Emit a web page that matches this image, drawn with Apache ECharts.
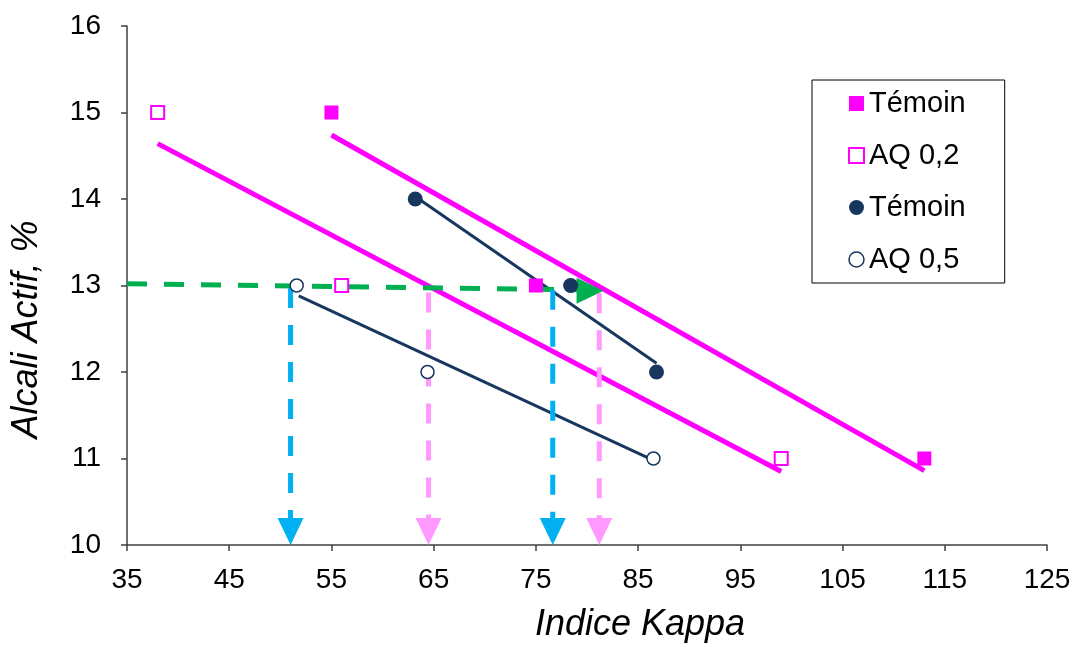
<!DOCTYPE html>
<html>
<head>
<meta charset="utf-8">
<script src="https://cdn.jsdelivr.net/npm/echarts@6/dist/echarts.min.js"></script>
<style>
html,body{margin:0;padding:0;background:#fff;}
#chart{width:1074px;height:651px;}
</style>
</head>
<body>
<div id="chart"></div>
<script>
// ---- data ----
const temoinSquares = [[55,15],[75,13],[113,11]];
const aq02 = [[38,15],[56,13],[99,11]];
const temoinCircles = [[63.2,14],[78.4,13],[86.8,12]];
const aq05 = [[51.6,13],[64.4,12],[86.5,11]];

const trendTemoinSquares = [[55,14.74],[113,10.86]];
const trendAq02 = [[38,14.64],[99,10.85]];
const trendTemoinCircles = [[63.3,14.02],[86.8,12.1]];
const trendAq05 = [[51.8,12.88],[86.3,10.99]];

const greenGuide = [[35,13.02],[79.6,12.95]];
const greenHead = [[80.3,12.94]];
const blueGuides = [[[51,12.97],[51,10.3]], [[76.65,12.95],[76.65,10.3]]];
const blueHeads = [[51,10.155],[76.65,10.155]];
const pinkGuides = [[[64.5,12.92],[64.5,10.3]], [[81.2,12.91],[81.2,10.3]]];
const pinkHeads = [[64.5,10.155],[81.2,10.155]];

const legendNames = ['Témoin', 'AQ 0,2', 'Témoin', 'AQ 0,5'];
const seriesKeys = ['s1','s2','s3','s4'];

const MAG = '#FF00FF', NAVY = '#17375E', GREEN = '#00B050', BLUE = '#00B0F0', PINK = '#FF99FF';
const FONT = 'Liberation Sans, Arial, sans-serif';

const dashLine = (data, color) => ({
  type: 'line', data: data, symbol: 'none', silent: true, z: 3,
  lineStyle: {color: color, width: 5, type: [20, 17], opacity: 1}
});
const heads = (data, color, rot) => ({
  type: 'scatter', data: data, symbol: 'triangle', symbolSize: [26, 27], symbolRotate: rot,
  itemStyle: {color: color, opacity: 1}, silent: true, z: 4
});

const series = [
  {type:'line', data: trendTemoinSquares, symbol:'none', lineStyle:{color:MAG, width:5}, z:2},
  {type:'line', data: trendAq02, symbol:'none', lineStyle:{color:MAG, width:5}, z:2},
  {type:'line', data: trendTemoinCircles, symbol:'none', lineStyle:{color:NAVY, width:3}, z:2},
  {type:'line', data: trendAq05, symbol:'none', lineStyle:{color:NAVY, width:3}, z:2},
  dashLine(greenGuide, GREEN),
  heads(greenHead, GREEN, -90),
  dashLine(blueGuides[0], BLUE), dashLine(blueGuides[1], BLUE),
  heads(blueHeads, BLUE, 180),
  dashLine(pinkGuides[0], PINK), dashLine(pinkGuides[1], PINK),
  heads(pinkHeads, PINK, 180),
  {name:'s1', type:'scatter', data: temoinSquares, symbol:'rect', symbolSize:14,
   itemStyle:{color:MAG, opacity:1}, z:5},
  {name:'s2', type:'scatter', data: aq02, symbol:'rect', symbolSize:13,
   itemStyle:{color:'#fff', borderColor:MAG, borderWidth:2, opacity:1}, z:5},
  {name:'s3', type:'scatter', data: temoinCircles, symbol:'circle', symbolSize:15,
   itemStyle:{color:NAVY, opacity:1}, z:5},
  {name:'s4', type:'scatter', data: aq05, symbol:'circle', symbolSize:13,
   itemStyle:{color:'#fff', borderColor:NAVY, borderWidth:1.5, opacity:1}, z:5}
];

const chart = echarts.init(document.getElementById('chart'));
chart.setOption({
  animation: false,
  backgroundColor: '#fff',
  textStyle: {fontFamily: FONT},
  grid: {left: 127, right: 27, top: 26, bottom: 106},
  legend: {
    orient: 'vertical', left: 812, top: 80,
    padding: [9, 39, 9, 36],
    borderColor: '#000', borderWidth: 1,
    itemGap: 23, itemWidth: 15, itemHeight: 15,
    selectedMode: false,
    formatter: n => legendNames[seriesKeys.indexOf(n)],
    textStyle: {fontSize: 29, color: '#000', fontFamily: FONT, lineHeight: 29},
    data: [
      {name:'s1', icon:'rect', itemStyle:{color:MAG}},
      {name:'s2', icon:'rect', itemStyle:{color:'#fff', borderColor:MAG, borderWidth:2}},
      {name:'s3', icon:'circle', itemStyle:{color:NAVY}},
      {name:'s4', icon:'circle', itemStyle:{color:'#fff', borderColor:NAVY, borderWidth:1.5}}
    ]
  },
  xAxis: {
    type: 'value', min: 35, max: 125, interval: 10,
    name: 'Indice Kappa', nameLocation: 'middle', nameGap: 62,
    nameTextStyle: {fontSize: 36, fontStyle: 'italic', color: '#000', fontFamily: FONT, padding: [0,0,0,106]},
    axisLine: {show: true, onZero: false, lineStyle: {color: '#404040', width: 1.5}},
    axisTick: {show: true, inside: false, length: 6, lineStyle: {color: '#404040', width: 1.5}},
    axisLabel: {fontSize: 28, color: '#000', margin: 21, fontFamily: FONT},
    splitLine: {show: false}
  },
  yAxis: {
    type: 'value', min: 10, max: 16, interval: 1,
    name: 'Alcali Actif, %', nameLocation: 'middle', nameGap: 82, nameRotate: 90,
    nameTextStyle: {fontSize: 36, fontStyle: 'italic', color: '#000', fontFamily: FONT, padding: [0,88,0,0]},
    axisLine: {show: true, onZero: false, lineStyle: {color: '#404040', width: 1.5}},
    axisTick: {show: true, inside: false, length: 6, lineStyle: {color: '#404040', width: 1.5}},
    axisLabel: {fontSize: 28, color: '#000', margin: 26, fontFamily: FONT},
    splitLine: {show: false}
  },
  series: series
});
</script>
</body>
</html>
